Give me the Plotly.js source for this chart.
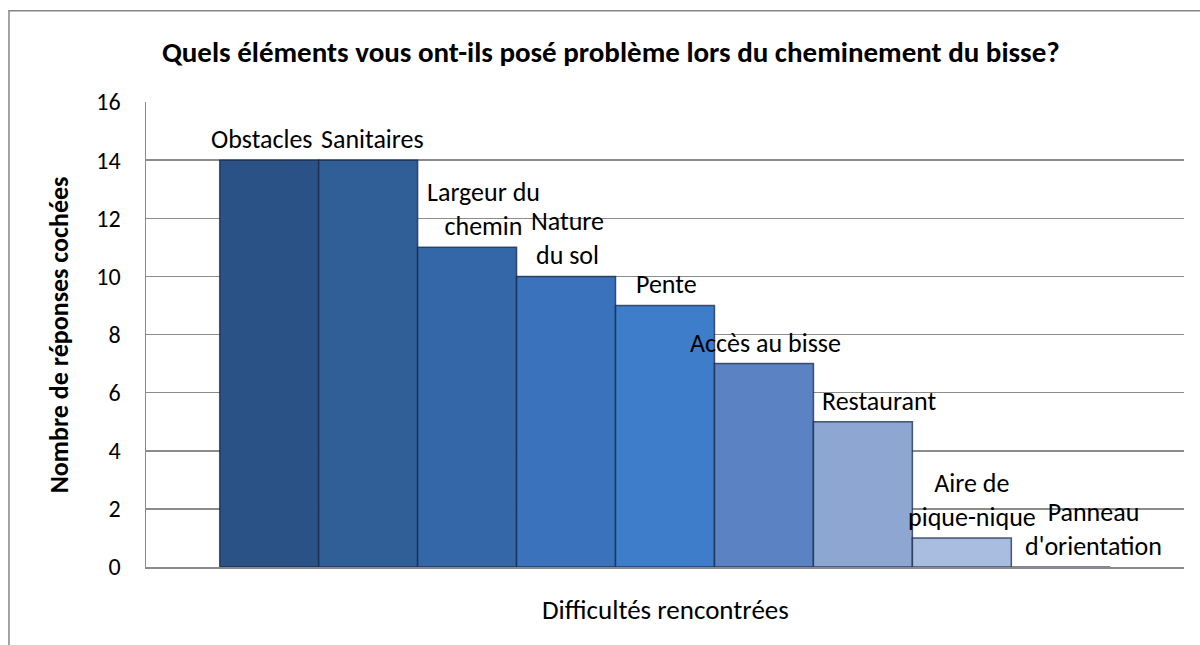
<!DOCTYPE html>
<html>
<head>
<meta charset="utf-8">
<script src="https://cdn.plot.ly/plotly-3.0.1.min.js"></script>
<style>
  html, body { margin: 0; padding: 0; background: #ffffff; }
  #chart { width: 1200px; height: 645px; }
</style>
</head>
<body>
<div id="chart"></div>
<script>
// ---- data ----
const categories = ["Obstacles", "Sanitaires", "Largeur du chemin", "Nature du sol", "Pente",
                    "Accès au bisse", "Restaurant", "Aire de pique-nique", "Panneau d'orientation"];
const labelText = ["Obstacles", "Sanitaires", "Largeur du<br>chemin", "Nature<br>du sol", "Pente",
                   "Accès au bisse", "Restaurant", "Aire de<br>pique-nique", "Panneau<br>d'orientation"];
const values = [14, 14, 11, 10, 9, 7, 5, 1, 0];
const yTicks = [0, 2, 4, 6, 8, 10, 12, 14, 16];

// ---- style ----
const barColors = ["#2b5286", "#305e96", "#3467a8", "#3a73bc", "#3e7dca",
                   "#5b82c2", "#8ea7d2", "#a9bde1", "#c0cfea"];
const labelDx = [-7, 4, 16, 1, 1, 2, 16, 10, 33];
const FONT = "Carlito, Calibri, Lato, 'Open Sans', sans-serif";

const trace = {
  type: "bar",
  x: categories,
  y: values,
  marker: { color: barColors, line: { color: "rgba(20,40,75,0.75)", width: 1.5 } },
  hoverinfo: "x+y"
};

const annotations = categories.map((c, i) => ({
  x: c, y: values[i], xref: "x", yref: "y",
  text: labelText[i], showarrow: false,
  xanchor: "center", yanchor: "bottom", yshift: 3, xshift: labelDx[i],
  font: { family: FONT, size: 26, color: "#000000" }
}));

annotations.push({
  xref: "paper", yref: "paper", x: -0.084, y: 0.5,
  text: "<b>Nombre de réponses cochées</b>", textangle: -90, showarrow: false,
  xanchor: "center", yanchor: "middle",
  font: { family: FONT, size: 26, color: "#000000" }
});
annotations.push({
  xref: "paper", yref: "paper", x: 0.5, y: -0.092,
  text: "Difficultés rencontrées", showarrow: false,
  xanchor: "center", yanchor: "middle",
  font: { family: FONT, size: 27, color: "#000000" }
});

const layout = {
  width: 1200, height: 645,
  margin: { l: 146, r: 16, t: 102, b: 78 },
  paper_bgcolor: "#ffffff",
  plot_bgcolor: "#ffffff",
  showlegend: false,
  bargap: 0,
  title: {
    text: "<b>Quels éléments vous ont-ils posé problème lors du cheminement du bisse?</b>",
    xref: "container", yref: "container", x: 0.509, y: 0.919,
    xanchor: "center", yanchor: "middle",
    font: { family: FONT, size: 29, color: "#000000" }
  },
  xaxis: {
    type: "category",
    range: [-1.245, 9.245],
    showticklabels: false,
    ticks: "",
    showgrid: false,
    zeroline: false,
    showline: true, linecolor: "#8a8a8a", linewidth: 2,
    fixedrange: true
  },
  yaxis: {
    range: [0, 16],
    tickvals: yTicks,
    ticktext: yTicks.map(String),
    ticks: "",
    ticklabelstandoff: 19,
    tickfont: { family: FONT, size: 24, color: "#000000" },
    showgrid: true, gridcolor: "#8c8c8c", gridwidth: 1.5,
    zeroline: false,
    showline: true, linecolor: "#8a8a8a", linewidth: 1.5,
    fixedrange: true
  },
  annotations: annotations,
  shapes: [{
    type: "rect", xref: "paper", yref: "paper",
    x0: -0.132, x1: 1.03, y0: -0.2, y1: 1.196,
    line: { color: "#868686", width: 1.5 }, fillcolor: "rgba(0,0,0,0)", layer: "below"
  }]
};

Plotly.newPlot("chart", [trace], layout, { displayModeBar: false, staticPlot: true });
</script>
</body>
</html>
